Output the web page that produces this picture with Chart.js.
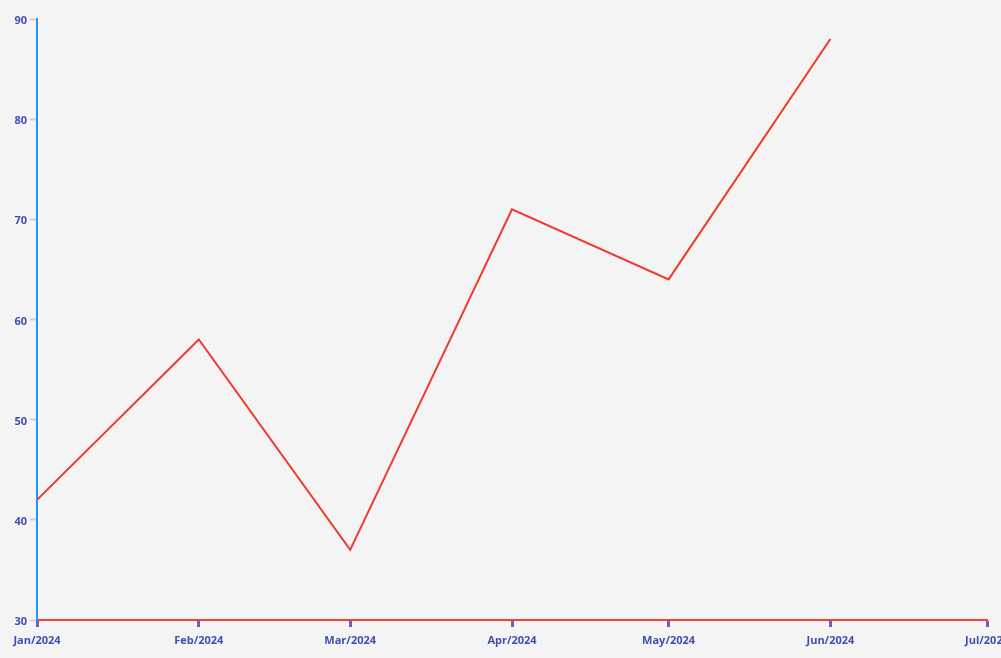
<!DOCTYPE html>
<html>
<head>
<meta charset="utf-8">
<script src="https://cdn.jsdelivr.net/npm/chart.js@4/dist/chart.umd.min.js"></script>
<style>
html,body{margin:0;padding:0;background:#f4f4f4;}
#wrap{width:1001px;height:658px;position:relative;}
</style>
</head>
<body>
<div id="wrap"><canvas id="c"></canvas></div>
<script>
const dates = ['2024-01-01','2024-02-01','2024-03-01','2024-04-01','2024-05-01','2024-06-01'];
const values = [42, 58, 37, 71, 64, 88];
const tickDates = ['2024-01-01','2024-02-01','2024-03-01','2024-04-01','2024-05-01','2024-06-01','2024-07-01'];
const monthNames = ['Jan','Feb','Mar','Apr','May','Jun','Jul','Aug','Sep','Oct','Nov','Dec'];
const yMin = 30, yMax = 90, yStep = 10;

const ts = s => Date.parse(s + 'T00:00:00Z');
const points = dates.map((d, i) => ({x: ts(d), y: values[i]}));
const tickTs = tickDates.map(ts);
const fmt = v => { const d = new Date(v); return monthNames[d.getUTCMonth()] + '/' + d.getUTCFullYear(); };

const tickFont = {family: "'Open Sans', sans-serif", size: 11, weight: 'bold'};
const tickColor = '#3f4fb5';

new Chart(document.getElementById('c'), {
  type: 'line',
  data: {
    datasets: [{
      data: points,
      borderColor: '#f0392b',
      borderWidth: 2,
      pointRadius: 0,
      pointHoverRadius: 0,
      fill: false,
      tension: 0
    }]
  },
  options: {
    responsive: true,
    maintainAspectRatio: false,
    animation: false,
    layout: {padding: {top: 19, right: 14, left: 0, bottom: 0}},
    plugins: {legend: {display: false}, tooltip: {enabled: false}},
    scales: {
      x: {
        type: 'linear',
        min: tickTs[0],
        max: tickTs[tickTs.length - 1],
        afterBuildTicks: s => { s.ticks = tickTs.map(v => ({value: v})); },
        afterFit: s => { s.height = 38; s.paddingLeft = 0; s.paddingRight = 0; },
        border: {display: true, color: '#f44336', width: 2},
        grid: {display: true, drawOnChartArea: false, drawTicks: true, tickLength: 7, tickColor: '#7e57c2', tickWidth: 3},
        ticks: {
          color: tickColor, font: tickFont, padding: 7, maxRotation: 0, autoSkip: false,
          callback: v => fmt(v)
        }
      },
      y: {
        min: yMin,
        max: yMax,
        afterFit: s => { s.width = 37; s.paddingTop = 0; s.paddingBottom = 0; },
        border: {display: true, color: '#2196f3', width: 2},
        grid: {display: true, drawOnChartArea: false, drawTicks: true, tickLength: 7, tickColor: '#d0d0d0', tickWidth: 2},
        ticks: {color: tickColor, font: tickFont, padding: 3, stepSize: yStep, labelOffset: 2}
      }
    }
  }
});
</script>
</body>
</html>
